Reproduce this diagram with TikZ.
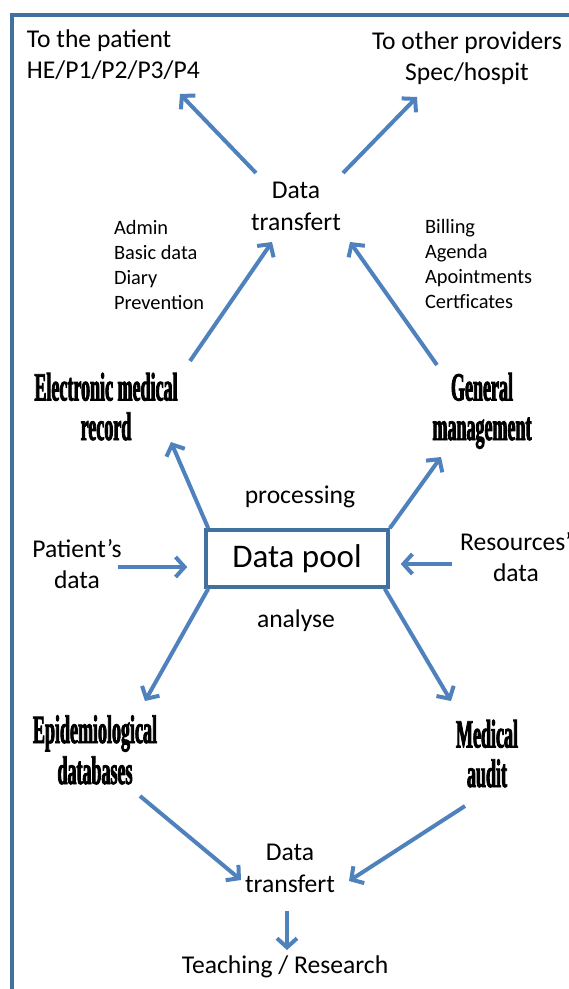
\documentclass[tikz,border=0pt]{standalone}
\usepackage{fontspec}
\setmainfont{Carlito}
\newfontfamily\condfont[FakeStretch=0.45,FakeBold=2]{Liberation Serif}
\usetikzlibrary{arrows.meta}
\definecolor{arrcol}{RGB}{79,129,189}
\definecolor{framecol}{RGB}{65,113,156}
\begin{document}
\begin{tikzpicture}[x=1pt,y=-1pt,
  lbl/.style={inner sep=0pt,outer sep=0pt,font=\fontsize{25.6}{31}\selectfont},
  small/.style={inner sep=0pt,outer sep=0pt,align=left,font=\fontsize{20.4}{25}\selectfont},
  cond/.style={inner sep=0pt,outer sep=0pt,align=center,font=\condfont\bfseries\fontsize{40}{39.5}\selectfont},
  arr/.style={draw=arrcol,line width=4pt,-{Straight Barb[length=9pt,width=20pt]}},
  poolbox/.style={draw=framecol,line width=3.5pt,minimum width=182pt,minimum height=57pt,inner sep=0pt,font=\fontsize{33}{40}\selectfont}
]
\useasboundingbox (0,0) rectangle (569,989);
\clip (0,0) rectangle (569,989);
\draw[framecol,line width=3.5pt] (12,15) rectangle (640,1060);

% text nodes (base = baseline of last line)
\node[lbl,align=left,anchor=base west] (pat) at (27,78) {To the patient\\HE/P1/P2/P3/P4};
\node[lbl,align=center,anchor=base] (prov) at (467,80) {To other providers\\Spec/hospit};
\node[lbl,align=center,anchor=base] (dt1) at (296,230) {Data\\[0.5pt]transfert};
\node[small,anchor=base west] (adm) at (114,309) {Admin\\Basic data\\Diary\\Prevention};
\node[small,anchor=base west] (bill) at (425,308) {Billing\\Agenda\\Apointments\\Certficates};
\node[cond,anchor=base] (emr) at (106,440) {Electronic medical\\record};
\node[cond,anchor=base] (gm) at (482,440) {General\\management};
\node[lbl,anchor=base] (proc) at (300,503) {processing};
\node[poolbox] (dp) at (297,558.5) {Data pool};
\node[lbl,align=center,anchor=base] (patd) at (77,588) {Patient’s\\data};
\node[lbl,align=center,anchor=base] (res) at (516,581) {Resources’\\data};
\node[lbl,anchor=base] (ana) at (296,627) {analyse};
\node[cond,anchor=base] (epi) at (95,784) {Epidemiological\\[1.5pt]databases};
\node[cond,anchor=base] (aud) at (487,787) {Medical\\audit};
\node[lbl,align=center,anchor=base] (dt2) at (290,892) {Data\\[1pt]transfert};
\node[lbl,anchor=base] (teach) at (285,973) {Teaching / Research};

% connectors
\draw[arr] ([shift={(-40,-57)}]dt1.base) -- ([shift={(153,16)}]pat.base west);
\draw[arr] ([shift={(47,-57)}]dt1.base) -- ([shift={(-50,17)}]prov.base);
\draw[arr] ([shift={(84,-79)}]emr.base) -- ([shift={(-24,12)}]dt1.base);
\draw[arr] ([shift={(-45,-75)}]gm.base) -- ([shift={(54,12)}]dt1.base);
\draw[arr] ([shift={(4,0)}]dp.north west) -- ([shift={(65,2)}]emr.base);
\draw[arr] (dp.north east) -- ([shift={(-41,17)}]gm.base);
\draw[arr] ([shift={(41,-21)}]patd.base) -- ([shift={(-17,8.5)}]dp.west);
\draw[arr] ([shift={(-64,-17)}]res.base) -- ([shift={(11,5.5)}]dp.east);
\draw[arr] ([shift={(4,0)}]dp.south west) -- ([shift={(50,-83)}]epi.base);
\draw[arr] ([shift={(-5,0)}]dp.south east) -- ([shift={(-36,-86)}]aud.base);
\draw[arr] ([shift={(45,12)}]epi.base) -- ([shift={(-49,-12)}]dt2.base);
\draw[arr] ([shift={(-22,19)}]aud.base) -- ([shift={(59,-11)}]dt2.base);
\draw[arr] ([shift={(-3,19)}]dt2.base) -- ([shift={(2,-23)}]teach.base);
\end{tikzpicture}
\end{document}
